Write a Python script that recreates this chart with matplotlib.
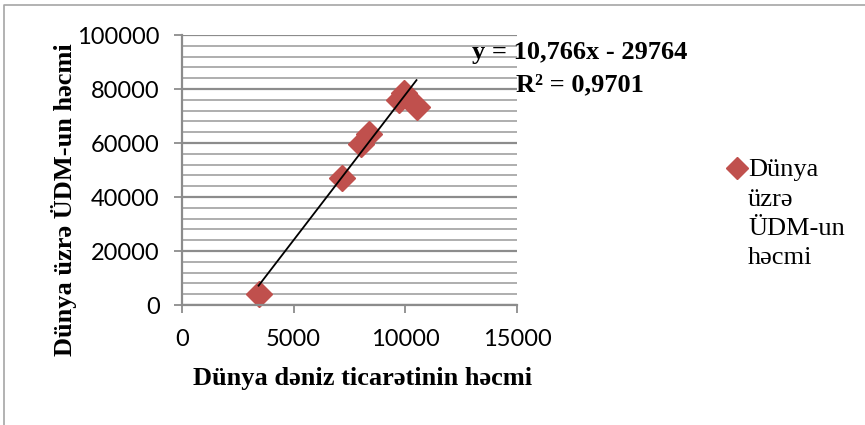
import numpy as np
import matplotlib
matplotlib.use("Agg")
import matplotlib.pyplot as plt

# Data
trade = [3430, 7150, 8000, 8380, 9700, 9920, 10500]
gdp = [4000, 47000, 59600, 63300, 75900, 78400, 73400]
slope, intercept = 10.766, -29764
x_ticks = [0, 5000, 10000, 15000]
y_ticks = [0, 20000, 40000, 60000, 80000, 100000]
legend_lines = ["Dünya", "üzrə", "ÜDM-un", "həcmi"]

fig = plt.figure(figsize=(8.65, 4.25), dpi=100)
# outer frame (top and left only visible)
fig.lines.append(plt.Line2D([4/865, 4/865, 1.0], [0.0, 1-5/425, 1-5/425],
                            transform=fig.transFigure, color="#a6a6a6", lw=1.2))

ax = fig.add_axes([182/865, 1-305/425, (517-182)/865, (305-35)/425])
ax.set_xlim(0, 15000)
ax.set_ylim(0, 100000)

# gridlines
for v in np.arange(0, 100001, 4000):
    major = v % 20000 == 0
    ax.axhline(v, color="#8c8c8c" if major else "#a8a8a8",
               lw=1.6 if major else 1.3, zorder=0)

ax.set_xticks(x_ticks)
ax.set_yticks(y_ticks)
ax.set_xticklabels([str(v) for v in x_ticks], fontfamily="Lato", fontsize=17)
ax.set_yticklabels([str(v) for v in y_ticks], fontfamily="Lato", fontsize=17)
ax.tick_params(axis="x", length=6, width=1.3, color="#8c8c8c", pad=11)
ax.tick_params(axis="y", length=6, width=1.3, color="#8c8c8c", pad=10)
for s in ["top", "right"]:
    ax.spines[s].set_visible(False)
for s in ["left", "bottom"]:
    ax.spines[s].set_color("#8c8c8c")
    ax.spines[s].set_linewidth(1.6)

# trendline
xl = np.array([min(trade), max(trade)])
ax.plot(xl, slope * xl + intercept, color="black", lw=1.3, zorder=3)
ax.plot(trade, gdp, linestyle="none", marker="D", markersize=13,
        color="#C0504D", zorder=2, clip_on=False)

serif = "Liberation Serif"
fs = 19
fig.text(580/865, 1-53/425, "y = 10,766x - 29764", family=serif, weight="bold",
         fontsize=fs, ha="center", va="center")
fig.text(580/865, 1-85/425, "R² = 0,9701", family=serif, weight="bold",
         fontsize=fs, ha="center", va="center")

fig.text(363/865, 1-379/425, "Dünya dəniz ticarətinin həcmi", family=serif,
         weight="bold", fontsize=fs, ha="center", va="center")
fig.text(64/865, 1-200/425, "Dünya üzrə ÜDM-un həcmi", family=serif,
         weight="bold", fontsize=fs, ha="center", va="center", rotation=90)

# legend
fig.lines.append(plt.Line2D([737/865], [1-168/425], marker="D", markersize=11.5,
                            color="#C0504D", linestyle="none", transform=fig.transFigure))
for i, t in enumerate(legend_lines):
    fig.text(748/865, 1-(170+29.5*i)/425, t, family=serif, fontsize=fs,
             ha="left", va="center")

fig.savefig("out.png", dpi=100)
